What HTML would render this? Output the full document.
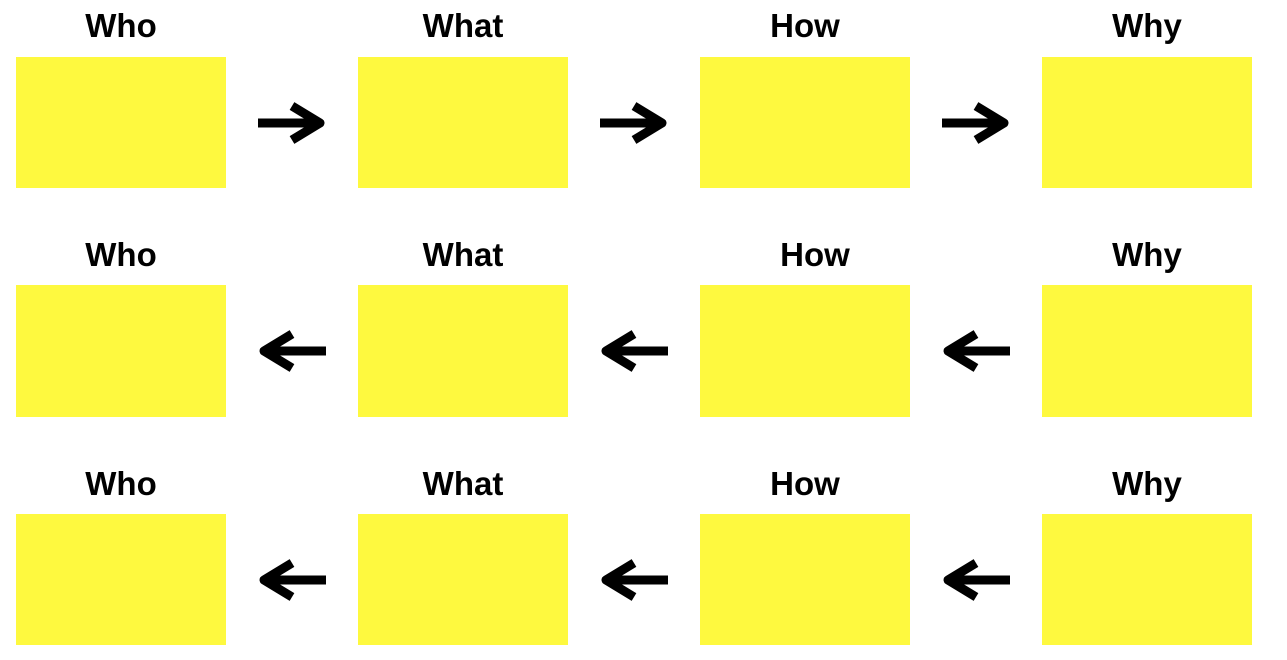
<!DOCTYPE html>
<html><head><style>
body{margin:0;width:1287px;height:660px;background:#fff;position:relative;overflow:hidden;font-family:"Liberation Sans",sans-serif}
.b{position:absolute;width:210px;background:#fef93f}
.t{position:absolute;width:210px;text-align:center;font-weight:bold;font-size:33px;color:#000;line-height:32px}
svg{position:absolute;left:0;top:0}
</style></head><body>
<div class="b" style="left:16px;top:57px;height:131px"></div>
<div class="b" style="left:358px;top:57px;height:131px"></div>
<div class="b" style="left:700px;top:57px;height:131px"></div>
<div class="b" style="left:1042px;top:57px;height:131px"></div>
<div class="b" style="left:16px;top:285px;height:132px"></div>
<div class="b" style="left:358px;top:285px;height:132px"></div>
<div class="b" style="left:700px;top:285px;height:132px"></div>
<div class="b" style="left:1042px;top:285px;height:132px"></div>
<div class="b" style="left:16px;top:514px;height:131px"></div>
<div class="b" style="left:358px;top:514px;height:131px"></div>
<div class="b" style="left:700px;top:514px;height:131px"></div>
<div class="b" style="left:1042px;top:514px;height:131px"></div>

<div class="t" style="left:16px;top:10px">Who</div>
<div class="t" style="left:358px;top:10px">What</div>
<div class="t" style="left:700px;top:10px">How</div>
<div class="t" style="left:1042px;top:10px">Why</div>
<div class="t" style="left:16px;top:239px">Who</div>
<div class="t" style="left:358px;top:239px">What</div>
<div class="t" style="left:710px;top:239px">How</div>
<div class="t" style="left:1042px;top:239px">Why</div>
<div class="t" style="left:16px;top:468px">Who</div>
<div class="t" style="left:358px;top:468px">What</div>
<div class="t" style="left:700px;top:468px">How</div>
<div class="t" style="left:1042px;top:468px">Why</div>

<svg width="1287" height="660" stroke="#000" fill="none" stroke-width="9" stroke-linejoin="round">
<g><line x1="258" y1="123" x2="320" y2="123"/><polyline points="292,106 320,123 292,140"/></g>
<g transform="translate(342,0)"><line x1="258" y1="123" x2="320" y2="123"/><polyline points="292,106 320,123 292,140"/></g>
<g transform="translate(684,0)"><line x1="258" y1="123" x2="320" y2="123"/><polyline points="292,106 320,123 292,140"/></g>
<g transform="translate(0,228)"><line x1="264" y1="123" x2="326" y2="123"/><polyline points="292,106 264,123 292,140"/></g>
<g transform="translate(342,228)"><line x1="264" y1="123" x2="326" y2="123"/><polyline points="292,106 264,123 292,140"/></g>
<g transform="translate(684,228)"><line x1="264" y1="123" x2="326" y2="123"/><polyline points="292,106 264,123 292,140"/></g>
<g transform="translate(0,457)"><line x1="264" y1="123" x2="326" y2="123"/><polyline points="292,106 264,123 292,140"/></g>
<g transform="translate(342,457)"><line x1="264" y1="123" x2="326" y2="123"/><polyline points="292,106 264,123 292,140"/></g>
<g transform="translate(684,457)"><line x1="264" y1="123" x2="326" y2="123"/><polyline points="292,106 264,123 292,140"/></g>
</svg>
</body></html>
